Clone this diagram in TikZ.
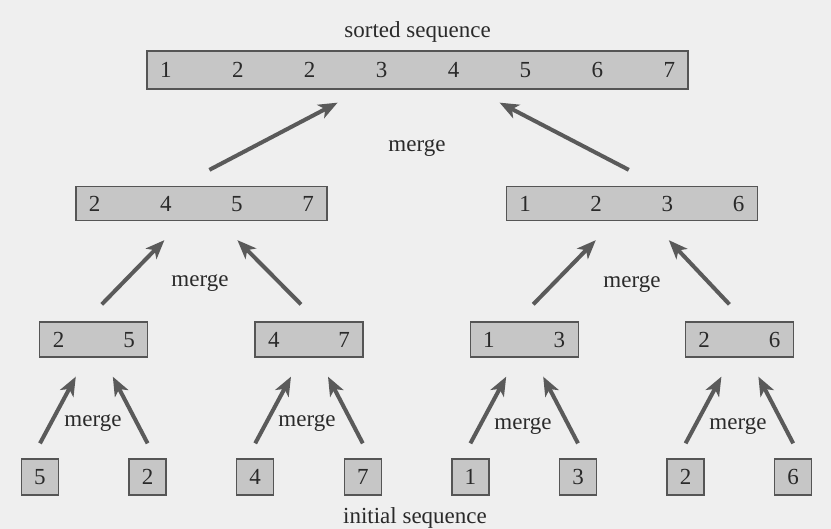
\documentclass[tikz,border=0pt]{standalone}
\usepackage{fontspec}
\setmainfont{Liberation Serif}
\usetikzlibrary{arrows.meta, positioning, calc}
\setlength{\parindent}{0pt}
\definecolor{bggray}{HTML}{EFEFEF}
\definecolor{boxgray}{HTML}{C6C6C6}
\definecolor{edgegray}{HTML}{555555}
\definecolor{inkgray}{HTML}{2A2A2A}
\definecolor{arrowgray}{HTML}{5A5A5A}
\tikzstyle{seq}   = [rectangle, draw=edgegray, fill=boxgray, line width=1.3pt, inner xsep=13pt,
                     text height=16pt, text depth=0pt, minimum height=36pt, align=left, text=inkgray]
\tikzstyle{leaf}  = [seq, inner xsep=0pt, minimum width=37pt, align=center]
\tikzstyle{lbl}   = [text=inkgray, anchor=base]
\tikzstyle{arrow} = [-{Stealth[length=19pt, width=15pt, inset=5pt]}, line width=4pt, draw=arrowgray]

\begin{document}
\begin{tikzpicture}[x=1pt, y=-1pt, node distance=69.3pt, every node/.style={font=\fontsize{23}{27}\selectfont}]
    \fill[bggray] (0,0) rectangle (831,529);
    \useasboundingbox (0,0) rectangle (831,529);

    % initial sequence
    \node (s1) [leaf] at (40,477) {5};
    \node (s2) [leaf, right=of s1] {2};
    \node (s3) [leaf, right=of s2] {4};
    \node (s4) [leaf, right=of s3] {7};
    \node (s5) [leaf, right=of s4] {1};
    \node (s6) [leaf, right=of s5] {3};
    \node (s7) [leaf, right=of s6] {2};
    \node (s8) [leaf, right=of s7] {6};

    % pairs
    \node (p1) [seq, text width=82pt, minimum height=35pt] at ($(s1)!.5!(s2)+(0,-137.5)$) {2\hfill 5};
    \node (p2) [seq, text width=82pt, minimum height=35pt] at ($(s3)!.5!(s4)+(0,-137.5)$) {4\hfill 7};
    \node (p3) [seq, text width=82pt, minimum height=35pt] at ($(s5)!.5!(s6)+(0,-137.5)$) {1\hfill 3};
    \node (p4) [seq, text width=82pt, minimum height=35pt] at ($(s7)!.5!(s8)+(0,-137.5)$) {2\hfill 6};

    % quadruples
    \node (m1) [seq, text width=225pt, minimum height=34pt] at ($(p1)!.5!(p2)+(0,-136)$) {2\hfill 4\hfill 5\hfill 7};
    \node (m2) [seq, text width=225pt, minimum height=34pt] at ($(p3)!.5!(p4)+(0,-136)$) {1\hfill 2\hfill 3\hfill 6};

    % sorted sequence
    \node (top) [seq, text width=515pt, minimum height=38pt] at ($(m1)!.5!(m2)+(1,-133.5)$)
        {1\hfill 2\hfill 2\hfill 3\hfill 4\hfill 5\hfill 6\hfill 7};
    \node (sorted) [text=inkgray, above=4pt of top] {sorted sequence};
    \node (initial) [lbl] at (415,523) {initial sequence};

    % merge labels
    \node (mg0) [lbl] at (417,152) {merge};
    \node (mg1) [lbl] at (200,287) {merge};
    \node (mg2) [lbl] at (632,288) {merge};
    \node (mg3) [lbl] at (93,427) {merge};
    \node (mg4) [lbl] at (307,427) {merge};
    \node (mg5) [lbl] at (523,430) {merge};
    \node (mg6) [lbl] at (738,430) {merge};

    \draw[arrow] ([xshift=8pt,yshift=16pt]m1.north) -- ([xshift=-80pt,yshift=-13pt]top.south);
    \draw[arrow] ([xshift=-3pt,yshift=16pt]m2.north) -- ([xshift=82pt,yshift=-13pt]top.south);

    \draw[arrow] ([xshift=8pt,yshift=17pt]p1.north) -- ([xshift=-37pt,yshift=-19pt]m1.south);
    \draw[arrow] ([xshift=-8pt,yshift=17pt]p2.north) -- ([xshift=36pt,yshift=-19pt]m1.south);
    \draw[arrow] ([xshift=9pt,yshift=17pt]p3.north) -- ([xshift=-36pt,yshift=-19pt]m2.south);
    \draw[arrow] ([xshift=-10pt,yshift=17pt]p4.north) -- ([xshift=37pt,yshift=-19pt]m2.south);

    \draw[arrow] ([yshift=15pt]s1.north) -- ([xshift=-18pt,yshift=-19pt]p1.south);
    \draw[arrow] ([yshift=15pt]s2.north) -- ([xshift=19pt,yshift=-19pt]p1.south);
    \draw[arrow] ([yshift=15pt]s3.north) -- ([xshift=-18pt,yshift=-19pt]p2.south);
    \draw[arrow] ([yshift=15pt]s4.north) -- ([xshift=19pt,yshift=-19pt]p2.south);
    \draw[arrow] ([yshift=15pt]s5.north) -- ([xshift=-18pt,yshift=-19pt]p3.south);
    \draw[arrow] ([yshift=15pt]s6.north) -- ([xshift=19pt,yshift=-19pt]p3.south);
    \draw[arrow] ([yshift=15pt]s7.north) -- ([xshift=-18pt,yshift=-19pt]p4.south);
    \draw[arrow] ([yshift=15pt]s8.north) -- ([xshift=19pt,yshift=-19pt]p4.south);
\end{tikzpicture}
\end{document}
